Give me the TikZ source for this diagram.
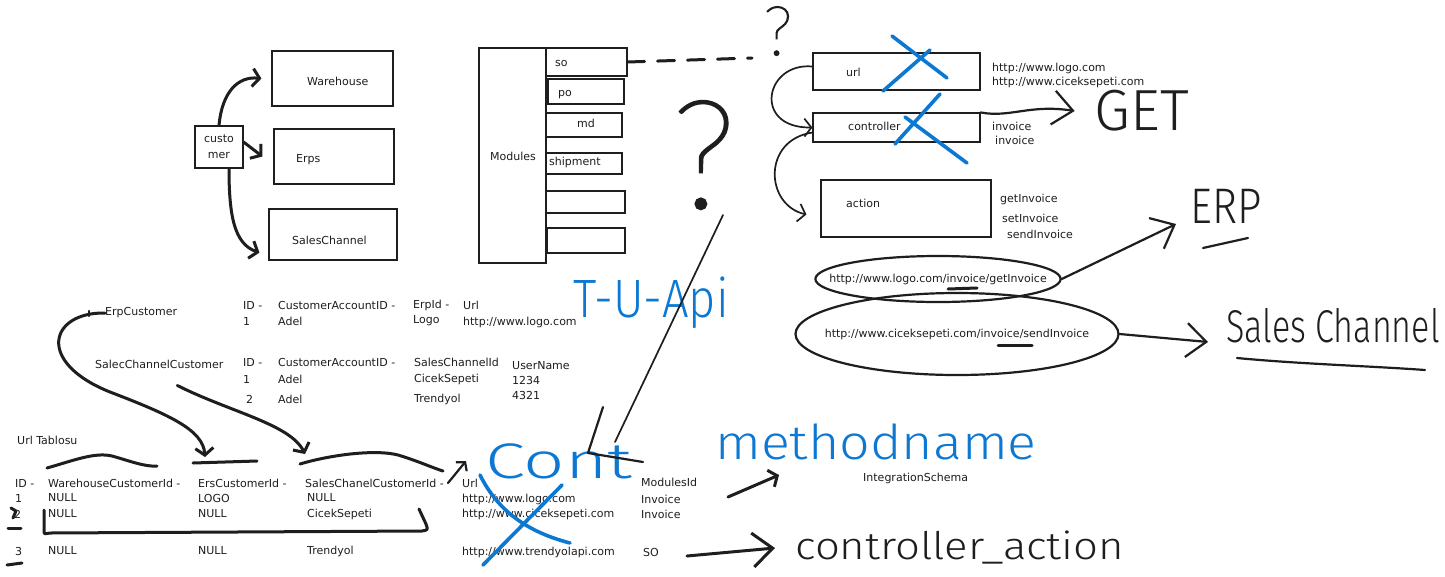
\documentclass[tikz,border=0pt]{standalone}
\usepackage{fontspec}
\usepackage{graphicx}
\setmainfont{DejaVu Sans}
\IfFontExistsTF{Fira Sans Light}{\newfontfamily\hand{Fira Sans Light}}{\newfontfamily\hand{Fira Sans}}
\IfFontExistsTF{Lato Thin}{\newfontfamily\thinhand{Lato Thin}[FakeBold=2]}{%
  \IfFontExistsTF{Lato Hairline}{\newfontfamily\thinhand{Lato Hairline}[FakeBold=3]}{\newfontfamily\thinhand{Fira Sans Light}}}
\usetikzlibrary{arrows.meta,shapes.geometric,calc}
\definecolor{ink}{HTML}{1E1E1E}
\definecolor{pen}{HTML}{0C78D2}
\begin{document}
\begin{tikzpicture}[x=1pt,y=-1pt,
  txt/.style={font=\fontsize{11}{13}\selectfont, text=ink, inner sep=0pt, anchor=west},
  box/.style={draw=ink, line width=1.1pt, inner sep=0pt, font=\fontsize{11}{16}\selectfont, text=ink},
  stroke/.style={draw=ink, line width=3pt, line cap=round, line join=round},
  midstroke/.style={draw=ink, line width=2.2pt, line cap=round, line join=round},
  thinstroke/.style={draw=ink, line width=1.7pt, line cap=round, line join=round},
  barb/.style={-{Straight Barb[length=7pt,width=18pt]}},
  smallbarb/.style={-{Straight Barb[length=6pt,width=14pt]}},
  bigbarb/.style={-{Straight Barb[length=20pt,width=34pt]}},
  bluestroke/.style={draw=pen, line width=3.6pt, line cap=round, line join=round},
  handtxt/.style={font=\hand\fontsize{#1}{#1}\selectfont, text=ink, inner sep=0pt},
  qtxt/.style={font=\thinhand\fontsize{#1}{#1}\selectfont, text=ink, inner sep=0pt},
  bluetxt/.style={font=\hand\fontsize{#1}{#1}\selectfont, text=pen, inner sep=0pt},
  loopy/.style={draw=ink, line width=2.2pt, ellipse, inner ysep=0pt, font=\fontsize{11}{13}\selectfont, text=ink}]
\useasboundingbox[fill=white] (0,0) rectangle (1445,576);

% ---------- top left: customer and targets ----------
\node[box, minimum width=48pt, minimum height=42pt, align=center] (cust) at (219,147) {custo\\mer};
\node[box, minimum width=121pt, minimum height=55pt] (wh) at (332.5,78.5) {};
\node[txt] (whL) at (307,81) {Warehouse};
\node[box, minimum width=120pt, minimum height=55pt] (erps) at (334,156.5) {};
\node[txt] (erpsL) at (296,160) {Erps};
\node[box, minimum width=128pt, minimum height=51pt] (sc) at (333,234.5) {};
\node[txt] (scL) at (292,240) {SalesChannel};

\draw[stroke, barb] (cust.north) .. controls (222,92) and (238,76) .. ([xshift=-10pt]wh.west);
\draw[stroke, barb] ([yshift=5pt]cust.east) -- ([xshift=-11pt]erps.west);
\draw[stroke, barb] ([xshift=10pt]cust.south) .. controls (229,215) and (234,244) .. ($(sc.south west)+(-9,-8)$);

% ---------- modules ----------
\node[box, minimum width=67pt, minimum height=215pt] (mods) at (512.5,155.5) {};
\node[txt] (modsL) at (490,156) {Modules};
\node[box, minimum width=81pt, minimum height=28pt] (so) at (586.5,62) {};
\node[txt] (soL) at (555,63) {so};
\node[box, minimum width=76pt, minimum height=25pt] (po) at (586,91.5) {};
\node[txt] (poL) at (558,95) {po};
\node[box, minimum width=76pt, minimum height=24pt] (md) at (584,125) {};
\node[txt] (mdL) at (577,123) {md};
\node[box, minimum width=76pt, minimum height=21pt] (ship) at (584,163.5) {};
\node[txt] (shipL) at (549,162) {shipment};
\node[box, minimum width=79pt, minimum height=22pt] (m5) at (585.5,202) {};
\node[box, minimum width=78pt, minimum height=25pt] (m6) at (586,240.5) {};

% ---------- question marks ----------
\node[qtxt=68] (q1) at (778,31) {?};
\node[qtxt=150] (q2) at (704,155) {?};
\coordinate (dashEnd) at (752,58);
\draw[stroke, dash pattern=on 17pt off 13pt] (so.east) -- (dashEnd);

% ---------- url / controller / action ----------
\node[box, minimum width=167pt, minimum height=37pt] (url) at (896.5,71.5) {};
\node[txt] (urlL) at (846,72) {url};
\node[box, minimum width=167pt, minimum height=29pt] (ctrl) at (896.5,127.5) {};
\node[txt] (ctrlL) at (848,126) {controller};
\node[box, minimum width=170pt, minimum height=57pt] (act) at (906,208.5) {};
\node[txt] (actL) at (846,203) {action};

\draw[thinstroke, barb] ([yshift=5pt]url.west) .. controls (765,62) and (752,128) .. (ctrl.west);
\draw[thinstroke, barb] ([yshift=-5pt]ctrl.west) .. controls (762,140) and (765,205) .. ([xshift=-14pt,yshift=-6pt]act.west);

\draw[bluestroke] (892,36) -- (947,78);
\draw[bluestroke] (930,50) -- (883,91);
\draw[bluestroke] (940,94) -- (895,144);
\draw[bluestroke] (905,117) -- (967,163);

\node[txt] (ua) at (992,68) {http://www.logo.com};
\node[txt] (ub) at (992,82) {http://www.ciceksepeti.com};
\node[txt] (inv1) at (992,126) {invoice};
\node[txt] (inv2) at (995,140) {invoice};
\node[txt] (getI) at (1000,199) {getInvoice};
\node[txt] (setI) at (1002,218) {setInvoice};
\node[txt] (sendI) at (1007,234) {sendInvoice};

\node[handtxt=58] (get) at (1142,111) {GET};
\draw[midstroke, bigbarb] (ctrl.north east) .. controls (1010,118) and (1030,104) .. ([xshift=-20pt]get.west);

% ---------- loops ----------
\node[loopy, inner xsep=-22pt, minimum height=46pt] (e1) at (938,279) {http://www.logo.com/invoice/getInvoice};
\node[loopy, inner xsep=-18pt, minimum height=82pt] (e2) at (957,334) {http://www.ciceksepeti.com/invoice/sendInvoice};
\draw[stroke] (948,289) -- (977,288);
\draw[stroke] (998,345) -- (1032,345);

\node[handtxt=50] (erp) at (1226,206) {\scalebox{0.85}[1]{ERP}};
\draw[midstroke] (1203,248) -- (1248,238);
\coordinate (erpTip) at (1176,224);
\draw[midstroke, bigbarb] (e1.east) -- (erpTip);

\node[handtxt=46, anchor=west] (salesCh) at (1226,326) {\scalebox{0.74}[1]{Sales Channel}};
\draw[midstroke] (1237,358) .. controls (1300,364) and (1370,366) .. (1425,370);
\coordinate (scTip) at (1208,342);
\draw[midstroke, bigbarb] (e2.east) -- (scTip);

% ---------- customer tables ----------
\node[txt] (erpc) at (105,313) {ErpCustomer};
\node[txt] (h1a) at (243,305) {ID -};
\node[txt] (h1b) at (278,305) {CustomerAccountID -};
\node[txt] (h1c) at (413,305) {ErpId -};
\node[txt] (h1d) at (463,305) {Url};
\node[txt] (r1a) at (243,321) {1};
\node[txt] (r1b) at (278,321) {Adel};
\node[txt] (r1c) at (413,321) {Logo};
\node[txt] (r1d) at (463,322) {http://www.logo.com};

\node[txt] (salc) at (95,364) {SalecChannelCustomer};
\node[txt] (h2a) at (243,362) {ID -};
\node[txt] (h2b) at (278,362) {CustomerAccountID -};
\node[txt] (h2c) at (414,362) {SalesChannelId};
\node[txt] (h2d) at (512,366) {UserName};
\node[txt] (s1a) at (243,379) {1};
\node[txt] (s1b) at (278,379) {Adel};
\node[txt] (s1c) at (414,379) {CicekSepeti};
\node[txt] (s1d) at (512,380) {1234};
\node[txt] (s2a) at (246,399) {2};
\node[txt] (s2b) at (278,399) {Adel};
\node[txt] (s2c) at (414,399) {Trendyol};
\node[txt] (s2d) at (512,395) {4321};

% ---------- url table ----------
\node[txt] (ut) at (17,440) {Url Tablosu};
\node[txt] (u0a) at (15,483) {ID -};
\node[txt] (u0b) at (48,483) {WarehouseCustomerId -};
\node[txt] (u0c) at (198,483) {ErsCustomerId -};
\node[txt] (u0d) at (305,483) {SalesChanelCustomerId -};
\node[txt] (u0e) at (462,483) {Url};
\node[txt] (u0f) at (641,482) {ModulesId};
\node[txt] (u1a) at (15,498) {1};
\node[txt] (u1b) at (48,498) {NULL};
\node[txt] (u1c) at (198,498) {LOGO};
\node[txt] (u1d) at (307,498) {NULL};
\node[txt] (u1e) at (462,499) {http://www.logo.com};
\node[txt] (u1f) at (641,499) {Invoice};
\node[txt] (u2a) at (14,514) {2};
\node[txt] (u2b) at (48,514) {NULL};
\node[txt] (u2c) at (198,514) {NULL};
\node[txt] (u2d) at (307,514) {CicekSepeti};
\node[txt] (u2e) at (462,514) {http://www.ciceksepeti.com};
\node[txt] (u2f) at (641,514) {Invoice};
\node[txt] (u3a) at (15,551) {3};
\node[txt] (u3b) at (48,551) {NULL};
\node[txt] (u3c) at (198,551) {NULL};
\node[txt] (u3d) at (307,551) {Trendyol};
\node[txt] (u3e) at (462,552) {http://www.trendyolapi.com};
\node[txt] (u3f) at (643,552) {SO};

% connectors from customer tables
\coordinate (ersTip) at (205,457);
\draw[midstroke] (89,311) -- (89,316);
\draw[stroke, barb] (erpc.west) .. controls (50,312) and (35,362) .. (110,392) .. controls (170,415) and (203,430) .. (ersTip);
\coordinate (salTip) at (305,454);
\draw[stroke, barb] ([xshift=18pt,yshift=-17pt]salc.south) .. controls (230,412) and (290,424) .. (salTip);

% hand marks on the url table
\draw[stroke] (47,468) .. controls (75,460) and (95,452) .. (112,456) .. controls (130,461) and (145,467) .. (157,466);
\draw[stroke] (193,463) -- (257,461);
\draw[stroke] (300,464) .. controls (330,455) and (375,449) .. (398,455) .. controls (418,461) and (433,468) .. (443,471);
\coordinate (urlArrowTip) at (466,461);
\draw[midstroke, smallbarb] ([xshift=-14pt]u0e.west) -- (urlArrowTip);
\draw[stroke] (44,510) -- (44,531) .. controls (44,534) .. (50,533) -- (422,531) .. controls (428,530) .. (426,524) -- (419,509);
\draw[stroke] (11,508) -- (16,511) -- (13,518);
\draw[stroke] (8,528) -- (21,528);
\draw[stroke] (7,565) -- (22,563);

% ---------- blue notes ----------
\node[bluetxt=54] (tuapi) at (651,303) {\scalebox{0.87}[1]{T-U-Api}};
\node[bluetxt=50] (cont) at (559,461) {\scalebox{1.45}[1]{Cont}};
\draw[bluestroke] (562,485) -- (483,565);
\draw[bluestroke] (480,475) .. controls (495,505) and (520,530) .. (570,543);

\coordinate (qFoot) at (723,215);
\coordinate (contEnd) at (615,442);
\draw[thinstroke] (qFoot) -- (contEnd);
\draw[midstroke] (603,407) -- (588,453) -- (643,462);

\node[bluetxt=48] (meth) at (876,442) {\scalebox{1.12}[1]{methodname}};
\node[txt] (integ) at (863,478) {IntegrationSchema};
\coordinate (methFrom) at (728,497);
\coordinate (methTip) at (779,475);
\draw[stroke, barb] (methFrom) -- (methTip);

\node[handtxt=38, anchor=west] (ca) at (795,548) {\scalebox{1.15}[1]{controller\_action}};
\coordinate (caFrom) at (687,556);
\draw[stroke, bigbarb] (caFrom) -- ([xshift=-20pt]ca.west);
\end{tikzpicture}
\end{document}
